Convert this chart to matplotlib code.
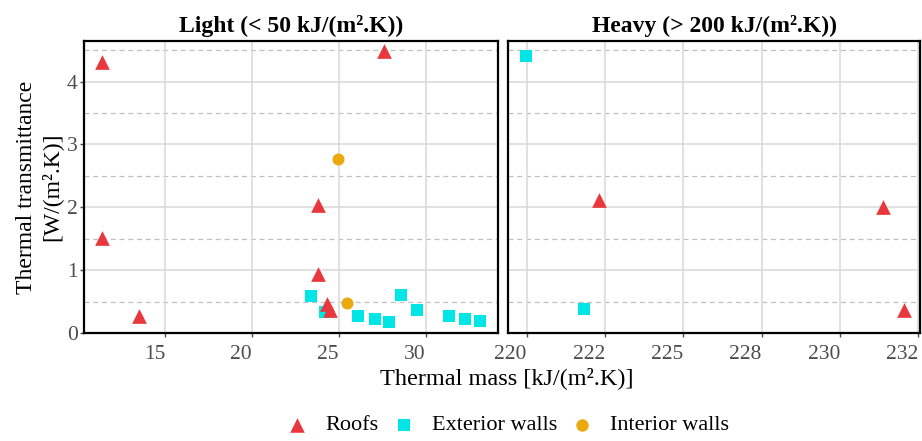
import matplotlib.pyplot as plt
import numpy as np
from matplotlib.ticker import FixedLocator

plt.rcParams['font.family'] = ['Liberation Serif', 'DejaVu Serif']

# Light panel
light_roof_x = [11.35, 27.58, 11.39, 13.5, 23.83, 23.83, 24.31, 24.5]
light_roof_y = [4.31, 4.49, 1.52, 0.28, 2.04, 0.94, 0.46, 0.37]
light_wall_x = [23.41, 24.22, 26.1, 27.06, 27.92, 28.6, 29.5, 31.32, 32.24, 33.14]
light_wall_y = [0.60, 0.34, 0.275, 0.23, 0.18, 0.61, 0.37, 0.28, 0.23, 0.19]
light_int_x = [24.98, 25.47]
light_int_y = [2.77, 0.49]

# Heavy panel
heavy_roof_x = [222.32, 231.36, 232.06]
heavy_roof_y = [2.12, 2.01, 0.37]
heavy_wall_x = [219.98, 221.84]
heavy_wall_y = [4.41, 0.38]

light_xticks = [15, 20, 25, 30]
heavy_xticks = [220, 222.5, 225, 227.5, 230, 232.5]
heavy_xlabels = ['220', '222', '225', '228', '230', '232']
yticks = [0, 1, 2, 3, 4]

panel_titles = ['Light (< 50 kJ/(m².K))', 'Heavy (> 200 kJ/(m².K))']
series_names = ['Roofs', 'Exterior walls', 'Interior walls']

red = '#E8383D'
cyan = '#00E5E5'
orange = '#E9A90F'
tick_col = '#4d4d4d'

fig = plt.figure(figsize=(9.22, 4.41), dpi=100)
ax1 = fig.add_axes([0.0916, 0.244, 0.4484, 0.664])
ax2 = fig.add_axes([0.551, 0.244, 0.447, 0.664])


def style(ax, title):
    ax.set_facecolor('white')
    ax.set_ylim(0, 4.65)
    ax.yaxis.set_major_locator(FixedLocator(yticks))
    for v in yticks:
        ax.axhline(v, color='#d9d9d9', lw=1.1, zorder=0)
    for v in np.arange(0.5, 4.6, 1.0):
        ax.axhline(v, color='#c0c0c0', lw=0.9, ls=(0, (4, 3)), zorder=0)
    for s in ax.spines.values():
        s.set_color('black')
        s.set_linewidth(1.6)
    ax.tick_params(axis='both', colors=tick_col, labelcolor=tick_col,
                   labelsize=15.5, length=3, width=1, pad=2)
    ax.tick_params(axis='x', pad=5)
    ax.set_title(title, fontsize=17, fontweight='bold', pad=6)


style(ax1, panel_titles[0])
ax1.set_xlim(10.36, 34.16)
ax1.set_xticks(light_xticks)
for v in light_xticks:
    ax1.axvline(v, color='#d9d9d9', lw=1.1, zorder=0)

ax1.scatter(light_wall_x, light_wall_y, marker='s', s=65, color=cyan, lw=0, zorder=3)
ax1.scatter(light_int_x, light_int_y, marker='o', s=75, color=orange, lw=0, zorder=3)
ax1.scatter(light_roof_x, light_roof_y, marker='^', s=112, color=red, lw=0, zorder=4)
ax1.set_ylabel('Thermal transmittance\n[W/(m².K)]', fontsize=17, color='black',
               labelpad=3, linespacing=1.2)

style(ax2, panel_titles[1])
ax2.set_xlim(219.4, 232.56)
ax2.set_xticks(heavy_xticks)
ax2.set_xticklabels(heavy_xlabels)
ax2.set_yticklabels([])
ax2.tick_params(axis='y', length=0)
for v in heavy_xticks:
    ax2.axvline(v, color='#d9d9d9', lw=1.1, zorder=0)

ax2.scatter(heavy_wall_x, heavy_wall_y, marker='s', s=65, color=cyan, lw=0, zorder=3)
ax2.scatter(heavy_roof_x, heavy_roof_y, marker='^', s=112, color=red, lw=0, zorder=4)

for ax in (ax1, ax2):
    for lab in ax.get_xticklabels():
        lab.set_ha('right')

fig.text(0.55, 0.143, 'Thermal mass [kJ/(m².K)]', ha='center', va='center', fontsize=17.5)

h1 = ax1.scatter([], [], marker='^', s=110, color=red, lw=0)
h2 = ax1.scatter([], [], marker='s', s=70, color=cyan, lw=0)
h3 = ax1.scatter([], [], marker='o', s=80, color=orange, lw=0)
fig.legend([h1, h2, h3], series_names, loc='center', bbox_to_anchor=(0.55, 0.036),
           ncol=3, frameon=False, fontsize=16, handletextpad=0.7, columnspacing=0.6,
           handlelength=1.1)

fig.savefig('out.png', dpi=100, facecolor='white')
